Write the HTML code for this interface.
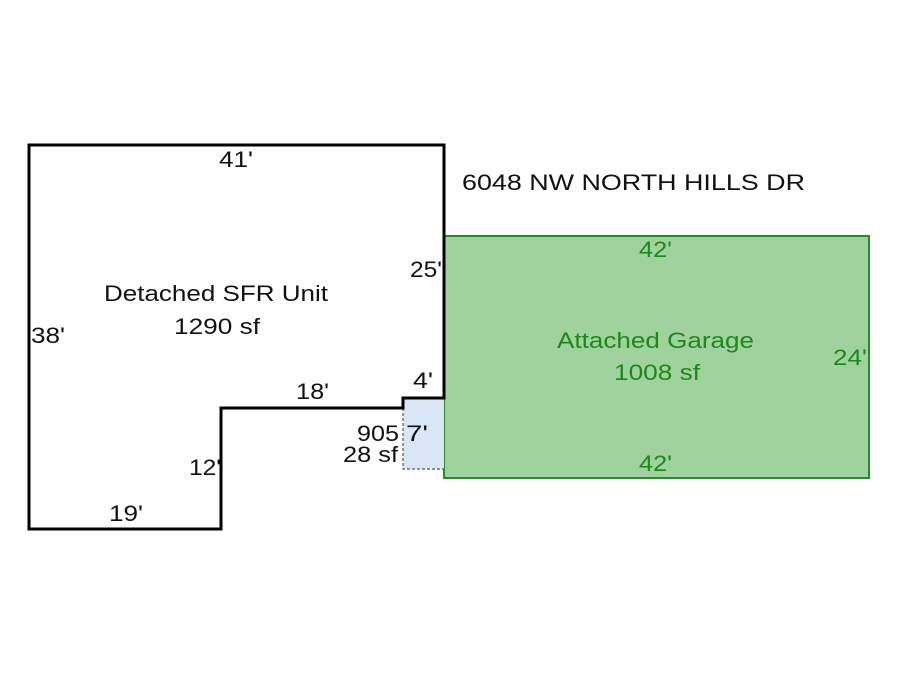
<!DOCTYPE html>
<html><head><meta charset="utf-8"><style>
html,body{margin:0;padding:0;background:#fff;}
svg{display:block;}
text{font-family:"Liberation Sans",Arial,sans-serif;font-size:22px;}
</style></head><body>
<svg width="900" height="675" viewBox="0 0 900 675" xmlns="http://www.w3.org/2000/svg">
<rect width="900" height="675" fill="#fff"/>
<rect x="444" y="236" width="425" height="242" fill="#a0d29e" stroke="#2a8a2a" stroke-width="2"/>
<rect x="403" y="398" width="41" height="71" fill="#d8e6f5"/>
<path d="M403 408 V469 H444" fill="none" stroke="#555" stroke-width="1.2" stroke-dasharray="3,2"/>
<path d="M29 145 H444 V398 H403 V408 H221 V529 H29 Z" fill="none" stroke="#000" stroke-width="3" stroke-linejoin="miter"/>
<g fill="#111" lengthAdjust="spacingAndGlyphs">
<text x="219" y="167" textLength="34" lengthAdjust="spacingAndGlyphs">41'</text>
<text x="462" y="190" textLength="343" lengthAdjust="spacingAndGlyphs">6048 NW NORTH HILLS DR</text>
<text x="410" y="277" textLength="32" lengthAdjust="spacingAndGlyphs">25'</text>
<text x="104" y="301" textLength="224" lengthAdjust="spacingAndGlyphs">Detached SFR Unit</text>
<text x="174" y="334" textLength="86" lengthAdjust="spacingAndGlyphs">1290 sf</text>
<text x="31" y="343" textLength="34" lengthAdjust="spacingAndGlyphs">38'</text>
<text x="296" y="399" textLength="33" lengthAdjust="spacingAndGlyphs">18'</text>
<text x="413" y="388" textLength="20" lengthAdjust="spacingAndGlyphs">4'</text>
<text x="357" y="441" textLength="42" lengthAdjust="spacingAndGlyphs">905</text>
<text x="406" y="441" textLength="22" lengthAdjust="spacingAndGlyphs">7'</text>
<text x="343" y="462" textLength="55" lengthAdjust="spacingAndGlyphs">28 sf</text>
<text x="189" y="475" textLength="32" lengthAdjust="spacingAndGlyphs">12'</text>
<text x="109" y="521" textLength="34" lengthAdjust="spacingAndGlyphs">19'</text>
</g>
<g fill="#1a8a1a">
<text x="639" y="257" textLength="33" lengthAdjust="spacingAndGlyphs">42'</text>
<text x="557" y="348" textLength="197" lengthAdjust="spacingAndGlyphs">Attached Garage</text>
<text x="614" y="380" textLength="86" lengthAdjust="spacingAndGlyphs">1008 sf</text>
<text x="833" y="365" textLength="34" lengthAdjust="spacingAndGlyphs">24'</text>
<text x="639" y="471" textLength="33" lengthAdjust="spacingAndGlyphs">42'</text>
</g>
</svg>
</body></html>
